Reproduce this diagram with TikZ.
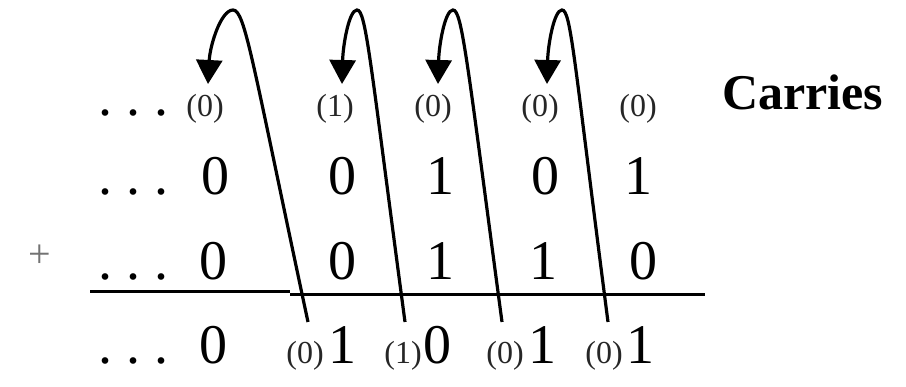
\documentclass[tikz,border=0pt]{standalone}
\usepackage{fontspec}
\setmainfont{Liberation Serif}
\usetikzlibrary{arrows.meta}
\begin{document}
\begin{tikzpicture}[x=1pt,y=-1pt,
  big/.style={font=\fontsize{56}{60}\selectfont, inner sep=0pt, anchor=base},
  dots/.style={font=\fontsize{56}{60}\selectfont, inner sep=0pt, anchor=base west},
  small/.style={font=\fontsize{32}{34}\selectfont, inner sep=0pt, anchor=base, text=black!85},
  lbl/.style={font=\fontsize{50}{54}\selectfont\bfseries, inner sep=0pt, anchor=base west},
  plussign/.style={font=\fontsize{40}{44}\selectfont, inner sep=0pt, anchor=base, text=black!55},
  carryarrow/.style={line width=3.2pt, -{Triangle[width=26pt,length=24pt]}},
  rule/.style={line width=3pt}]
\useasboundingbox (0,0) rectangle (906,387);
% row 1: carries
\node[dots] (d1) at (98,116) {.\ .\ .};
\node[small] (c1) at (205,117) {(0)};
\node[small] (c2) at (335,117) {(1)};
\node[small] (c3) at (433,117) {(0)};
\node[small] (c4) at (540,117) {(0)};
\node[small] (c5) at (638,117) {(0)};
\node[lbl] (car) at (722,110) {Carries};
% row 2
\node[dots] (d2) at (98,195) {.\ .\ .};
\node[big] (a1) at (215,195) {0};
\node[big] (a2) at (342,195) {0};
\node[big] (a3) at (440,195) {1};
\node[big] (a4) at (545,195) {0};
\node[big] (a5) at (638,195) {1};
% row 3
\node[plussign] (pl) at (40,268) {+};
\node[dots] (d3) at (98,280) {.\ .\ .};
\node[big] (b1) at (213,280) {0};
\node[big] (b2) at (342,280) {0};
\node[big] (b3) at (440,280) {1};
\node[big] (b4) at (543,280) {1};
\node[big] (b5) at (643,280) {0};
% rule
\coordinate (r1) at (90,292);
\coordinate (r2) at (290,292);
\coordinate (r3) at (290,295);
\coordinate (r4) at (705,295);
\draw[rule] (r1) -- (r2);
\draw[rule] (r3) -- (r4);
% row 4: sum
\node[dots] (d4) at (98,364) {.\ .\ .};
\node[big] (s1) at (213,364) {0};
\node[small] (k2) at (305,364) {(0)};
\node[big] (s2) at (342,364) {1};
\node[small] (k3) at (403,364) {(1)};
\node[big] (s3) at (437,364) {0};
\node[small] (k4) at (505,364) {(0)};
\node[big] (s4) at (542,364) {1};
\node[small] (k5) at (604,364) {(0)};
\node[big] (s5) at (640,364) {1};
% carry arrows
\coordinate (e1) at (308,322); \coordinate (p1) at (233,10); \coordinate (t1) at (208,84);
\coordinate (e2) at (405,322); \coordinate (p2) at (357,10); \coordinate (t2) at (342,84);
\coordinate (e3) at (502,322); \coordinate (p3) at (453,10); \coordinate (t3) at (438,84);
\coordinate (e4) at (608,322); \coordinate (p4) at (562,10); \coordinate (t4) at (547,84);
\draw[carryarrow] (e1) .. controls (252,60) and (245,10) .. (p1) .. controls (221,10) and (210,45) .. (t1);
\draw[carryarrow] (e2) .. controls (370,60) and (366,10) .. (p2) .. controls (349,10) and (343,45) .. (t2);
\draw[carryarrow] (e3) .. controls (467,60) and (462,10) .. (p3) .. controls (445,10) and (439,45) .. (t3);
\draw[carryarrow] (e4) .. controls (574,60) and (571,10) .. (p4) .. controls (554,10) and (548,45) .. (t4);
\end{tikzpicture}
\end{document}
